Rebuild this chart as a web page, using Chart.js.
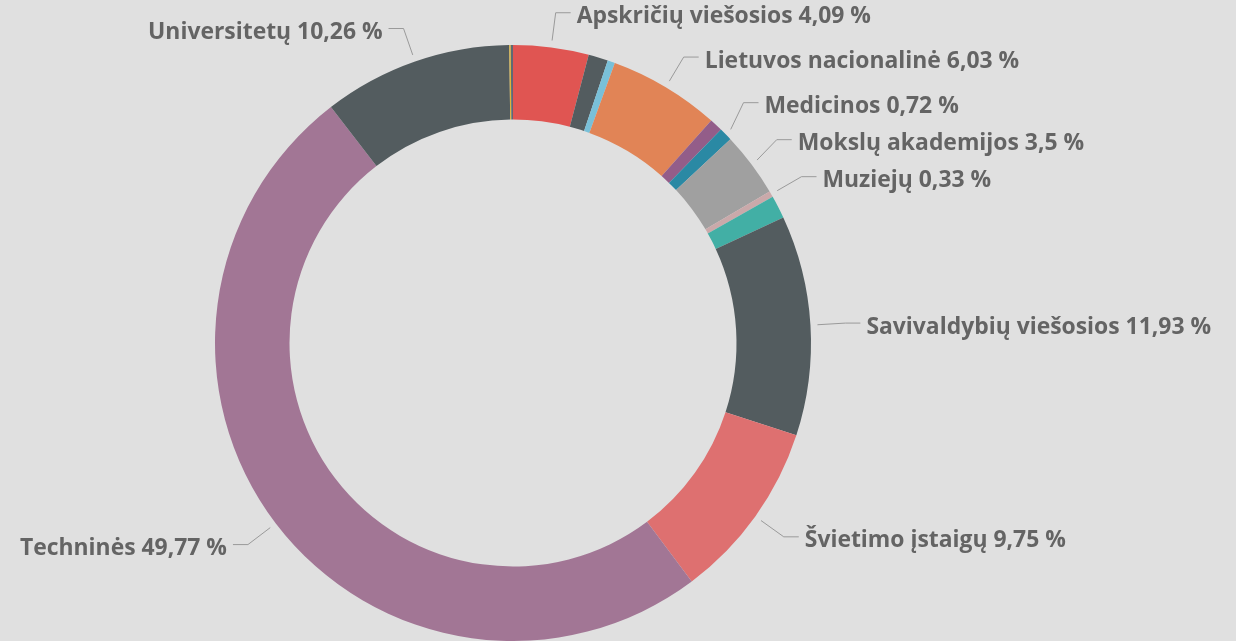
<!DOCTYPE html>
<html>
<head>
<meta charset="utf-8">
<script src="https://cdn.jsdelivr.net/npm/chart.js@4"></script>
<style>
html,body{margin:0;padding:0;background:#e0e0e0;overflow:hidden}
#wrap{width:1236px;height:641px}
</style>
</head>
<body>
<div id="wrap"><canvas id="c" width="1236" height="641"></canvas></div>
<script>
const categories = [
  "Apskričių viešosios", "Aukštųjų mokyklų", "Kitos", "Lietuvos nacionalinė",
  "Mažosios", "Medicinos", "Mokslų akademijos", "Muziejų", "Profesinių mokyklų",
  "Savivaldybių viešosios", "Švietimo įstaigų", "Techninės", "Universitetų",
  "Valstybinės", "Žinybinės"
];
const values = [4.09, 1.06, 0.40, 6.03, 0.71, 0.72, 3.5, 0.33, 1.24, 11.93, 9.75, 49.77, 10.26, 0.08, 0.12];
const colors = [
  "#e05552", "#535c5f", "#79c0d8", "#e18456", "#935d89", "#2a89a4", "#a0a0a0",
  "#caa9aa", "#42afa5", "#535c5f", "#de7070", "#a27695", "#535c5f", "#ddb43a", "#5e6a73"
];
const showLabel = [true, false, false, true, false, true, true, true, false, true, true, true, true, false, false];

const DIST = 35, GAP = 37, FONT = "700 22.9px 'Open Sans'", TEXT_COLOR = "#646464", LINE_COLOR = "#9a9a9a";

function fmt(v) { return String(v).replace('.', ',') + ' %'; }

const bgPlugin = {
  id: 'bg',
  beforeDraw(chart) {
    const c = chart.ctx;
    c.save();
    c.fillStyle = '#e0e0e0';
    c.fillRect(0, 0, chart.width, chart.height);
    c.restore();
  }
};

const labelPlugin = {
  id: 'pieLabels',
  afterDatasetsDraw(chart) {
    const ctx = chart.ctx;
    const meta = chart.getDatasetMeta(0);
    const items = [];
    meta.data.forEach((arc, i) => {
      if (!showLabel[i]) return;
      const p = arc.getProps(['x', 'y', 'startAngle', 'endAngle', 'outerRadius'], true);
      const mid = (p.startAngle + p.endAngle) / 2;
      const R = p.outerRadius;
      const cs = Math.cos(mid), sn = Math.sin(mid);
      items.push({
        i, cx: p.x, cy: p.y, R,
        ax: p.x + cs * (R + 7), ay: p.y + sn * (R + 7),
        right: cs >= 0,
        y: p.y + sn * (R + DIST)
      });
    });
    ['right', 'left'].forEach(side => {
      const arr = items.filter(it => (side === 'right') === it.right).sort((a, b) => a.y - b.y);
      for (let k = arr.length - 2; k >= 0; k--) {
        if (arr[k + 1].y - arr[k].y < GAP) arr[k].y = arr[k + 1].y - GAP;
      }
      for (let k = 1; k < arr.length; k++) {
        if (arr[k].y - arr[k - 1].y < GAP) arr[k].y = arr[k - 1].y + GAP;
      }
    });
    ctx.save();
    items.forEach(it => {
      const r2 = it.R + DIST;
      const dy = it.y - it.cy;
      const dx = Math.sqrt(Math.max(r2 * r2 - dy * dy, 0));
      const ex = it.cx + (it.right ? dx : -dx);
      const hx = ex + (it.right ? 15 : -15);
      ctx.strokeStyle = LINE_COLOR;
      ctx.lineWidth = 1;
      ctx.beginPath();
      ctx.moveTo(it.ax, it.ay);
      ctx.lineTo(ex, it.y);
      ctx.lineTo(hx, it.y);
      ctx.stroke();
      ctx.font = FONT;
      ctx.fillStyle = TEXT_COLOR;
      ctx.textBaseline = 'middle';
      ctx.textAlign = it.right ? 'left' : 'right';
      ctx.fillText(categories[it.i] + ' ' + fmt(values[it.i]), hx + (it.right ? 6 : -6), it.y + 4);
    });
    ctx.restore();
  }
};

new Chart(document.getElementById('c'), {
  type: 'doughnut',
  data: {
    labels: categories,
    datasets: [{
      data: values,
      backgroundColor: colors,
      borderWidth: 0,
      hoverOffset: 0
    }]
  },
  options: {
    responsive: false,
    animation: false,
    cutout: '75%',
    layout: { padding: { top: 45, left: 215, right: 425, bottom: 0 } },
    plugins: {
      legend: { display: false },
      tooltip: { enabled: true }
    }
  },
  plugins: [bgPlugin, labelPlugin]
});
</script>
</body>
</html>
